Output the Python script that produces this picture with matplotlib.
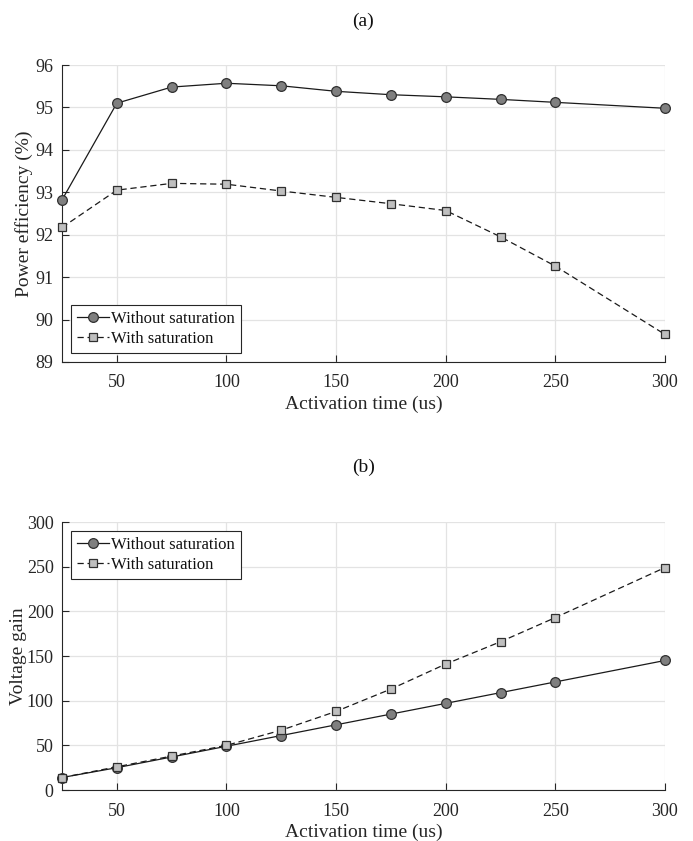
import matplotlib
matplotlib.use("Agg")
import matplotlib.pyplot as plt

plt.rcParams['font.family'] = ['Liberation Serif', 'DejaVu Serif']

# activation time (us)
t_us = [25, 50, 75, 100, 125, 150, 175, 200, 225, 250, 300]

# (a) power efficiency (%)
eff_nosat = [92.82, 95.10, 95.48, 95.57, 95.51, 95.38, 95.30, 95.25, 95.19, 95.12, 94.98]
eff_sat = [92.17, 93.05, 93.21, 93.19, 93.03, 92.88, 92.73, 92.57, 91.95, 91.26, 89.65]

# (b) voltage gain
gain_nosat = [14, 25, 37, 49, 61, 73, 85, 97, 109, 121, 145]
gain_sat = [14, 26, 38, 50, 67, 88, 113, 141, 166, 193, 249]

x_ticks = [50, 100, 150, 200, 250, 300]
eff_ticks = [89, 90, 91, 92, 93, 94, 95, 96]
gain_ticks = [0, 50, 100, 150, 200, 250, 300]

txt = '#262626'


def style_axes(ax):
    ax.grid(True, color='#e3e3e3', linewidth=0.9)
    ax.set_axisbelow(True)
    ax.spines['top'].set_visible(False)
    ax.spines['right'].set_visible(False)
    for s in ['left', 'bottom']:
        ax.spines[s].set_color('#262626')
        ax.spines[s].set_linewidth(0.8)
    ax.tick_params(direction='in', length=5, width=0.8, colors='#262626',
                   labelsize=13, labelcolor=txt)
    ax.tick_params(axis='x', pad=9)
    ax.tick_params(axis='y', pad=6)
    ax.set_xlim(25, 300)
    ax.set_xticks(x_ticks)
    ax.set_xlabel('Activation time (us)', fontsize=14, color=txt, labelpad=3)


def draw(ax, y1, y2, loc):
    ax.plot(t_us, y1, '-', color='#1a1a1a', linewidth=0.9, marker='o',
            markersize=7, markerfacecolor='#7f7f7f', markeredgecolor='#303030',
            markeredgewidth=0.9, label='Without saturation', clip_on=False, zorder=3)
    ax.plot(t_us, y2, '--', color='#1a1a1a', linewidth=0.9, marker='s',
            markersize=5.5, markerfacecolor='#bfbfbf', markeredgecolor='#303030',
            markeredgewidth=0.9, label='With saturation', clip_on=False, zorder=4,
            dashes=(5, 3))
    leg = ax.legend(loc=loc, fontsize=12, fancybox=False, framealpha=1,
                    edgecolor='#262626', borderpad=0.35, labelspacing=0.25,
                    handlelength=1.9, handletextpad=0.15, borderaxespad=0.55)
    leg.get_frame().set_linewidth(0.8)
    for t in leg.get_texts():
        t.set_color('#111111')


fig = plt.figure(figsize=(6.93, 8.41), dpi=100)

ax1 = fig.add_axes([0.0895, 0.5696, 0.870, 0.3531])
style_axes(ax1)
draw(ax1, eff_nosat, eff_sat, 'lower left')
ax1.set_ylim(89, 96)
ax1.set_yticks(eff_ticks)
ax1.set_ylabel('Power efficiency (%)', fontsize=14, color=txt, labelpad=2)
ax1.set_title('(a)', fontsize=14, color='#111111', pad=28)

ax2 = fig.add_axes([0.0895, 0.0606, 0.870, 0.3187])
style_axes(ax2)
draw(ax2, gain_nosat, gain_sat, 'upper left')
ax2.set_ylim(0, 300)
ax2.set_yticks(gain_ticks)
ax2.set_ylabel('Voltage gain', fontsize=14, color=txt, labelpad=0)
ax2.set_title('(b)', fontsize=14, color='#111111', pad=36)

fig.savefig('out.png', dpi=100)
